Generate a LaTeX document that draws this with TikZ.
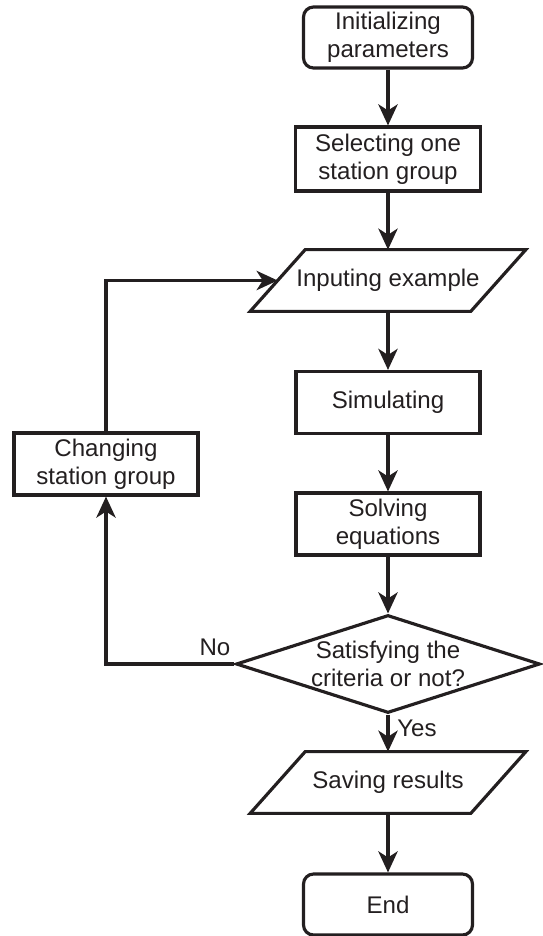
\documentclass[tikz,border=0pt]{standalone}
\usepackage{fontspec}
\setmainfont{Liberation Sans}
\usetikzlibrary{shapes.geometric,arrows.meta}
\definecolor{ink}{HTML}{231F20}

\begin{document}
\begin{tikzpicture}[x=0.02cm,y=-0.02cm,
  every node/.style={font=\fontsize{13.7}{16}\selectfont, text=ink},
  box/.style={draw=ink, line width=1.8pt, align=center, minimum width=3.68cm, minimum height=1.24cm, inner sep=0pt},
  term/.style={box, rounded corners=0.2cm, minimum width=3.38cm, minimum height=1.22cm},
  io/.style={align=center, minimum width=4.4cm, minimum height=1.22cm, inner sep=0pt},
  frame/.style={draw=ink, line width=1.8pt, line join=miter},
  decision/.style={draw=ink, line width=1.8pt, diamond, minimum width=6.08cm, minimum height=1.96cm, inner sep=0pt},
  arr/.style={draw=ink, line width=1.8pt, -{Stealth[length=12pt,width=11pt,inset=3.5pt]}}]
\useasboundingbox (0,0) rectangle (542,936);

\node[term] (init) at (388,37.5) {Initializing\\parameters};
\node[box, minimum width=3.7cm, minimum height=1.28cm] (select) at (388,159) {Selecting one\\station group};
\node[io] (input) at (388,280.5) {Inputing example};
\node[box] (sim) at (388,402.5) {Simulating};
\node[box] (solve) at (388,524) {Solving\\equations};
\node[decision] (check) at (388,664) {};
\node[align=center] (checktext) at (388,664) {Satisfying the\\criteria or not?};
\node[io] (save) at (388,782.5) {Saving results};
\node[term] (end) at (388,904.5) {End};
\node[box] (change) at (106,464) {Changing\\station group};

% parallelogram frames
\draw[frame] ([xshift=0.55cm]input.north west) -- ([xshift=0.55cm]input.north east)
  -- ([xshift=-0.55cm]input.south east) -- ([xshift=-0.55cm]input.south west) -- cycle;
\draw[frame] ([xshift=0.55cm]save.north west) -- ([xshift=0.55cm]save.north east)
  -- ([xshift=-0.55cm]save.south east) -- ([xshift=-0.55cm]save.south west) -- cycle;

\draw[arr] (init) -- (select);
\draw[arr] (select) -- (input);
\draw[arr] (input) -- (sim);
\draw[arr] (sim) -- (solve);
\draw[arr] (solve) -- (check);
\draw[arr] (check) -- (save);
\draw[arr] (save) -- (end);
\draw[arr] (check.west) -| (change.south);
\draw[arr] (change.north) |- (input.west);

\node (no) at (215,647) {No};
\node (yes) at (417,728) {Yes};
\end{tikzpicture}
\end{document}
